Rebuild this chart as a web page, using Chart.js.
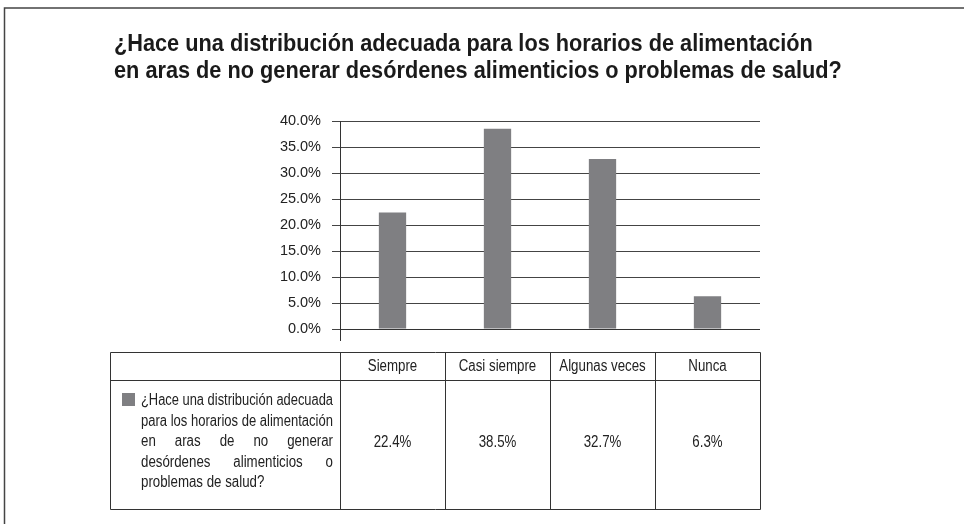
<!DOCTYPE html>
<html lang="es">
  <head>
    <meta charset="utf-8" />
    <title>Distribución de horarios de alimentación</title>
    <style>
      * {
        margin: 0;
        padding: 0;
      }
      body {
        background: #fff;
        width: 964px;
        height: 524px;
        overflow: hidden;
      }
      #myChart {
        position: absolute;
        left: 0;
        top: 0;
      }
    </style>
  </head>
  <body>
    <canvas id="myChart" width="964" height="524"></canvas>
    <script src="https://cdn.jsdelivr.net/npm/chart.js/dist/chart.umd.min.js"></script>
    <script>
      const titleLines = [
        "¿Hace una distribución adecuada para los horarios de alimentación",
        "en aras de no generar desórdenes alimenticios o problemas de salud?",
      ];
      const categories = ["Siempre", "Casi siempre", "Algunas veces", "Nunca"];
      const values = [22.4, 38.5, 32.7, 6.3];
      const seriesName =
        "¿Hace una distribución adecuada para los horarios de alimentación en aras de no generar desórdenes alimenticios o problemas de salud?";
      // line breaks of the series name as printed in the table
      const seriesLines = [
        "¿Hace una distribución adecuada",
        "para los horarios de alimentación",
        "en aras de no generar",
        "desórdenes alimenticios o",
        "problemas de salud?",
      ];

      const barColor = "#7f7f82";
      const lineColor = "#333";
      const textColor = "#222";
      const sans = "'Liberation Sans', Arial, sans-serif";
      // no condensed face installed, so squeeze the regular one
      const squeeze = 0.83;

      function squeezedText(ctx, text, x, y, sx) {
        ctx.save();
        ctx.translate(x, y);
        ctx.scale(sx, 1);
        ctx.fillText(text, 0, 0);
        ctx.restore();
      }

      function justifiedLine(ctx, text, x, y, width, sx, last) {
        const natural = ctx.measureText(text).width * sx;
        if (natural >= width) {
          // a full line: squeeze it a little more instead of cutting spaces
          squeezedText(ctx, text, x, y, (sx * width) / natural);
          return;
        }
        const words = text.split(" ");
        if (last || words.length === 1) {
          squeezedText(ctx, text, x, y, sx);
          return;
        }
        const total = words.reduce((s, w) => s + ctx.measureText(w).width * sx, 0);
        const gap = (width - total) / (words.length - 1);
        let cx = x;
        words.forEach((w) => {
          squeezedText(ctx, w, cx, y, sx);
          cx += ctx.measureText(w).width * sx + gap;
        });
      }

      const tablePlugin = {
        id: "tablePlugin",
        afterDatasetsDraw(chart) {
          const { ctx, chartArea } = chart;
          const y0 = chart.scales.y.getPixelForValue(0);
          ctx.save();
          ctx.strokeStyle = lineColor;
          ctx.lineWidth = 1;
          ctx.beginPath();
          ctx.moveTo(chartArea.left, Math.round(y0) + 0.5);
          ctx.lineTo(chartArea.right, Math.round(y0) + 0.5);
          // axis runs a bit past zero, like the original
          ctx.moveTo(Math.round(chartArea.left) + 0.5, y0);
          ctx.lineTo(Math.round(chartArea.left) + 0.5, y0 + 12);
          ctx.stroke();
          ctx.restore();
        },
        afterDraw(chart) {
          const { ctx, chartArea } = chart;
          const xs = chart.scales.x;
          ctx.save();

          // frame of the figure
          ctx.strokeStyle = "#444";
          ctx.lineWidth = 1.5;
          ctx.beginPath();
          ctx.moveTo(4.5, 530);
          ctx.lineTo(4.5, 8);
          ctx.lineTo(970, 8);
          ctx.stroke();

          // title
          ctx.fillStyle = "#1a1a1a";
          ctx.font = "bold 24px " + sans;
          ctx.textAlign = "left";
          ctx.textBaseline = "alphabetic";
          squeezedText(ctx, titleLines[0], 114, 51, 0.905);
          squeezedText(ctx, titleLines[1], 114, 78, 0.905);

          // data table
          const left = 110;
          const right = chartArea.right;
          const top = 352;
          const mid = 380;
          const bottom = 509;
          const colW = xs.width / categories.length;
          const edges = categories.map((c, i) => xs.left + i * colW);
          edges.push(xs.right);

          ctx.strokeStyle = lineColor;
          ctx.lineWidth = 1;
          ctx.beginPath();
          ctx.rect(left + 0.5, top + 0.5, right - left, bottom - top);
          ctx.moveTo(left, mid + 0.5);
          ctx.lineTo(right, mid + 0.5);
          edges.slice(0, -1).forEach((e) => {
            ctx.moveTo(Math.round(e) + 0.5, top);
            ctx.lineTo(Math.round(e) + 0.5, bottom);
          });
          ctx.stroke();

          ctx.fillStyle = textColor;
          ctx.font = "16px " + sans;
          ctx.textBaseline = "middle";
          categories.forEach((c, i) => {
            const cx = (edges[i] + edges[i + 1]) / 2;
            const hw = (ctx.measureText(c).width * squeeze) / 2;
            squeezedText(ctx, c, cx - hw, (top + mid) / 2 + 1, squeeze);
            const v = values[i].toFixed(1) + "%";
            const vw = (ctx.measureText(v).width * squeeze) / 2;
            squeezedText(ctx, v, cx - vw, 443, squeeze);
          });

          // series label with its legend key
          ctx.fillStyle = barColor;
          ctx.fillRect(122, 393, 13, 13);
          ctx.fillStyle = textColor;
          ctx.textBaseline = "alphabetic";
          const textX = 141;
          const textW = 192;
          seriesLines.forEach((line, i) => {
            justifiedLine(ctx, line, textX, 405 + i * 20.5, textW, squeeze, i === seriesLines.length - 1);
          });

          ctx.restore();
        },
      };

      const data = {
        labels: categories,
        datasets: [
          {
            label: seriesName,
            data: values,
            backgroundColor: barColor,
            barPercentage: 0.26,
            categoryPercentage: 1,
          },
        ],
      };

      const config = {
        type: "bar",
        data,
        options: {
          responsive: false,
          animation: false,
          layout: {
            padding: { left: 260, right: 204, top: 121, bottom: 195 },
          },
          scales: {
            x: {
              display: false,
            },
            y: {
              min: 0,
              max: 40,
              afterFit(axis) {
                axis.width = 80;
              },
              ticks: {
                stepSize: 5,
                padding: 11,
                color: textColor,
                font: { family: sans, size: 14.5 },
                callback: (v) => v.toFixed(1) + "%",
              },
              grid: {
                color: "#444",
                lineWidth: 1,
                tickLength: 8,
              },
              border: {
                color: lineColor,
                width: 1,
              },
            },
          },
          plugins: {
            legend: { display: false },
            tooltip: { enabled: false },
          },
        },
        plugins: [tablePlugin],
      };

      const myChart = new Chart(document.getElementById("myChart"), config);
    </script>
  </body>
</html>
